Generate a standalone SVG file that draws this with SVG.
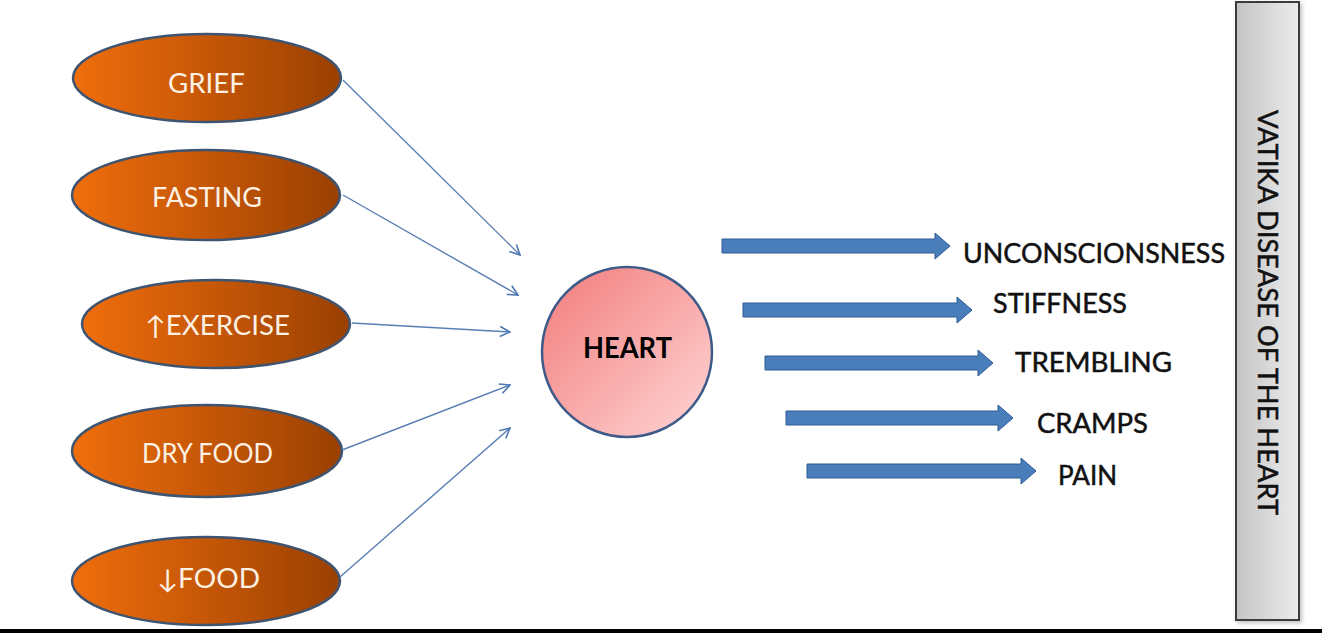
<svg xmlns="http://www.w3.org/2000/svg" width="1333" height="633" viewBox="0 0 1333 633">
  <defs>
    <linearGradient id="orangeFill" x1="0" y1="0" x2="1" y2="0">
      <stop offset="0" stop-color="#f06e0c"/>
      <stop offset="1" stop-color="#9a4002"/>
    </linearGradient>
    <linearGradient id="heartFill" x1="0" y1="0" x2="1" y2="1">
      <stop offset="0" stop-color="#f27b7b"/>
      <stop offset="1" stop-color="#ffd6d6"/>
    </linearGradient>
    <linearGradient id="greyFill" x1="0" y1="0" x2="1" y2="0">
      <stop offset="0" stop-color="#c4c4c4"/>
      <stop offset="1" stop-color="#ececec"/>
    </linearGradient>
    <filter id="softShadow" x="-10%" y="-10%" width="130%" height="130%">
      <feGaussianBlur in="SourceAlpha" stdDeviation="2"/>
      <feOffset dx="2" dy="2" result="b"/>
      <feComponentTransfer><feFuncA type="linear" slope="0.25"/></feComponentTransfer>
      <feMerge><feMergeNode/><feMergeNode in="SourceGraphic"/></feMerge>
    </filter>
    <marker id="openHead" viewBox="0 0 12 12" refX="11" refY="6" markerWidth="12" markerHeight="12" markerUnits="userSpaceOnUse" orient="auto">
      <path d="M1,1 L11,6 L1,11" fill="none" stroke="#4f79b3" stroke-width="1.6"/>
    </marker>
  </defs>
  <style>
    .cause { fill: url(#orangeFill); stroke: #3e5470; stroke-width: 2.5; }
    .causeText { font-family: Lato, "Open Sans", "DejaVu Sans", sans-serif; font-size: 26px; fill: #fdf1e4; text-anchor: middle; }
    .link { stroke: #5a7fb4; stroke-width: 1.4; fill: none; marker-end: url(#openHead); }
    .effect { fill: #4a7ebb; stroke: #2f5b93; stroke-width: 1; }
    .effectText { font-family: Lato, "Open Sans", sans-serif; font-size: 27px; fill: #111; stroke: #111; stroke-width: 0.5; }
    .heartText { font-family: Lato, "Open Sans", sans-serif; font-size: 28px; font-weight: bold; fill: #000; text-anchor: middle; }
    .sideText { font-family: Lato, "Open Sans", sans-serif; font-size: 27px; fill: #111; stroke: #111; stroke-width: 0.5; text-anchor: middle; }
  </style>

  <rect x="0" y="0" width="1333" height="633" fill="#ffffff"/>

  <!-- causes -->
  <g id="grief">
    <ellipse class="cause" cx="207" cy="78" rx="134" ry="44"/>
    <text class="causeText" x="206.5" y="93" textLength="77" lengthAdjust="spacingAndGlyphs">GRIEF</text>
  </g>
  <g id="fasting">
    <ellipse class="cause" cx="206" cy="195" rx="134" ry="45"/>
    <text class="causeText" x="207" y="207" textLength="110" lengthAdjust="spacingAndGlyphs">FASTING</text>
  </g>
  <g id="exercise">
    <ellipse class="cause" cx="216" cy="324" rx="134" ry="44"/>
    <text class="causeText" x="217.5" y="335" textLength="145" lengthAdjust="spacingAndGlyphs">↑EXERCISE</text>
  </g>
  <g id="dry-food">
    <ellipse class="cause" cx="207" cy="451" rx="135" ry="46"/>
    <text class="causeText" x="207.5" y="463" textLength="131" lengthAdjust="spacingAndGlyphs">DRY FOOD</text>
  </g>
  <g id="less-food">
    <ellipse class="cause" cx="206" cy="581" rx="134" ry="44"/>
    <text class="causeText" x="208.5" y="588" textLength="103" lengthAdjust="spacingAndGlyphs">↓FOOD</text>
  </g>

  <!-- heart -->
  <g id="heart">
    <circle cx="627" cy="352" r="85" fill="url(#heartFill)" stroke="#3d5a88" stroke-width="2.5"/>
    <text class="heartText" x="627.5" y="358" textLength="89" lengthAdjust="spacingAndGlyphs">HEART</text>
  </g>

  <!-- connectors -->
  <g id="connectors">
    <line class="link" x1="343" y1="80" x2="520" y2="255"/>
    <line class="link" x1="343" y1="195" x2="518" y2="295"/>
    <line class="link" x1="352" y1="323" x2="510" y2="332"/>
    <line class="link" x1="342" y1="450" x2="510" y2="385"/>
    <line class="link" x1="340" y1="577" x2="510" y2="428"/>

    <g class="effect">
      <path transform="translate(950,246)" d="M0,0 L-15,-13 V-7 H-228 V7 H-15 V13 Z"/>
      <path transform="translate(972,310)" d="M0,0 L-15,-13 V-7 H-229 V7 H-15 V13 Z"/>
      <path transform="translate(993,363)" d="M0,0 L-15,-13 V-7 H-228 V7 H-15 V13 Z"/>
      <path transform="translate(1013,418)" d="M0,0 L-15,-13 V-7 H-227 V7 H-15 V13 Z"/>
      <path transform="translate(1036,471)" d="M0,0 L-15,-13 V-7 H-229 V7 H-15 V13 Z"/>
    </g>
  </g>

  <!-- effects -->
  <g id="unconsciousness">
    <text class="effectText" x="963" y="263" textLength="262" lengthAdjust="spacingAndGlyphs">UNCONSCIONSNESS</text>
  </g>
  <g id="stiffness">
    <text class="effectText" x="993" y="313" textLength="134" lengthAdjust="spacingAndGlyphs">STIFFNESS</text>
  </g>
  <g id="trembling">
    <text class="effectText" x="1015" y="372" textLength="157" lengthAdjust="spacingAndGlyphs">TREMBLING</text>
  </g>
  <g id="cramps">
    <text class="effectText" x="1037" y="433" textLength="111" lengthAdjust="spacingAndGlyphs">CRAMPS</text>
  </g>
  <g id="pain">
    <text class="effectText" x="1058" y="485" textLength="59" lengthAdjust="spacingAndGlyphs">PAIN</text>
  </g>

  <!-- side title -->
  <g id="title">
    <rect x="1236" y="2" width="63" height="618" fill="url(#greyFill)" stroke="#3a3a3a" stroke-width="2" filter="url(#softShadow)"/>
    <text class="sideText" transform="translate(1258,312.5) rotate(90)" x="0" y="0" textLength="405" lengthAdjust="spacingAndGlyphs">VATIKA DISEASE OF THE HEART</text>
  </g>

  <!-- bottom rule -->
  <rect x="0" y="629" width="1322" height="4" fill="#000"/>
</svg>
